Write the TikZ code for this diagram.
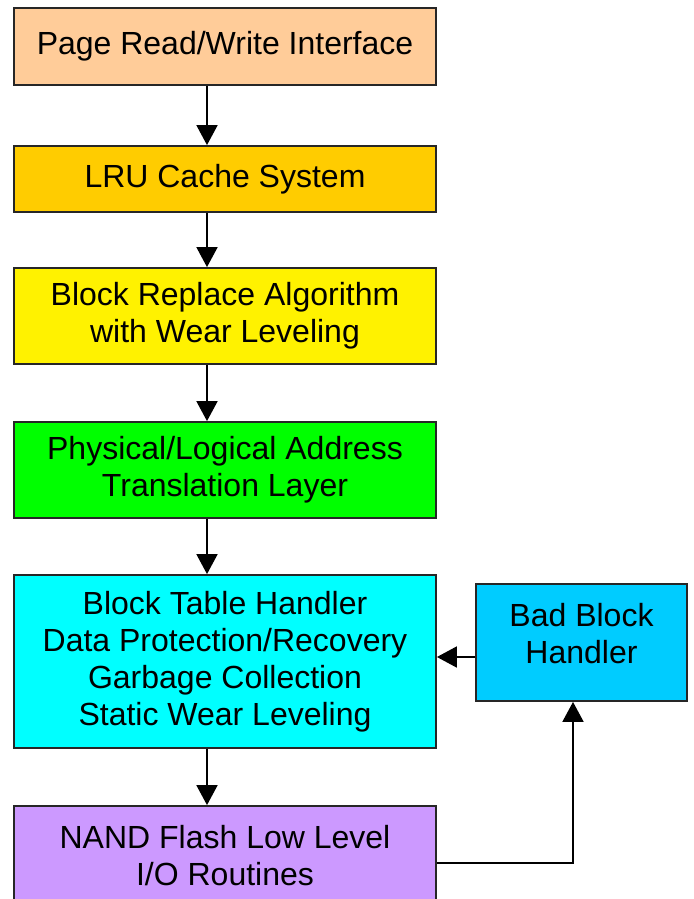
\documentclass[tikz,border=0pt]{standalone}
\usepackage{fontspec}
\setmainfont{Liberation Sans}
\usetikzlibrary{arrows.meta, positioning, calc}
\usepackage{xcolor}
\definecolor{peach}{HTML}{FFCC99}
\definecolor{amber}{HTML}{FFCC00}
\definecolor{lime}{HTML}{00FF00}
\definecolor{aqua}{HTML}{00FFFF}
\definecolor{sky}{HTML}{00CCFF}
\definecolor{lilac}{HTML}{CC99FF}
\tikzset{
  layer/.style={draw=black!85, line width=1.8pt, align=center, inner sep=0pt,
    font=\fontsize{32}{37}\selectfont, minimum width=422pt},
  arr/.style={-{Triangle[width=21pt,length=20pt]}, line width=1.8pt}
}

\begin{document}
\begin{tikzpicture}[x=1pt, y=-1pt]
      \useasboundingbox (0, 0) rectangle (693, 899);

      \node[layer, fill=peach, minimum height=77pt] (page) at (225, 46.5) {Page Read/Write Interface};
      \node[layer, fill=amber, minimum height=66pt] (lru) at (225, 179) {LRU Cache System};
      \node[layer, fill=yellow, minimum height=96pt] (repl) at (225, 316) {Block Replace Algorithm\\with Wear Leveling};
      \node[layer, fill=lime, minimum height=96pt] (addr) at (225, 470) {Physical/Logical Address\\Translation Layer};
      \node[layer, fill=aqua, minimum height=173pt] (tbl) at (225, 661.5) {Block Table Handler\\Data Protection/Recovery\\Garbage Collection\\Static Wear Leveling};
      \node[layer, fill=sky, minimum width=211pt, minimum height=117pt] (bad) at (581.5, 642.5) {};
      \node[align=center, font=\fontsize{32}{37}\selectfont] () at (581.5, 634) {Bad Block\\Handler};
      \node[layer, fill=lilac, minimum height=100pt] (nand) at (225, 856) {NAND Flash Low Level\\I/O Routines};

      \draw[arr] ([xshift=-18pt]page.south) -- ([xshift=-18pt]lru.north);
      \draw[arr] ([xshift=-18pt]lru.south) -- ([xshift=-18pt]repl.north);
      \draw[arr] ([xshift=-18pt]repl.south) -- ([xshift=-18pt]addr.north);
      \draw[arr] ([xshift=-18pt]addr.south) -- ([xshift=-18pt]tbl.north);
      \draw[arr] ([xshift=-18pt]tbl.south) -- ([xshift=-18pt]nand.north);

      \draw[arr] ([yshift=-14.5pt]bad.west) -- ([yshift=-14.5pt]bad.west -| tbl.east);
      \draw[arr] ([yshift=-7pt]nand.east) -| ([xshift=-8.5pt]bad.south);

    \end{tikzpicture}
\end{document}
